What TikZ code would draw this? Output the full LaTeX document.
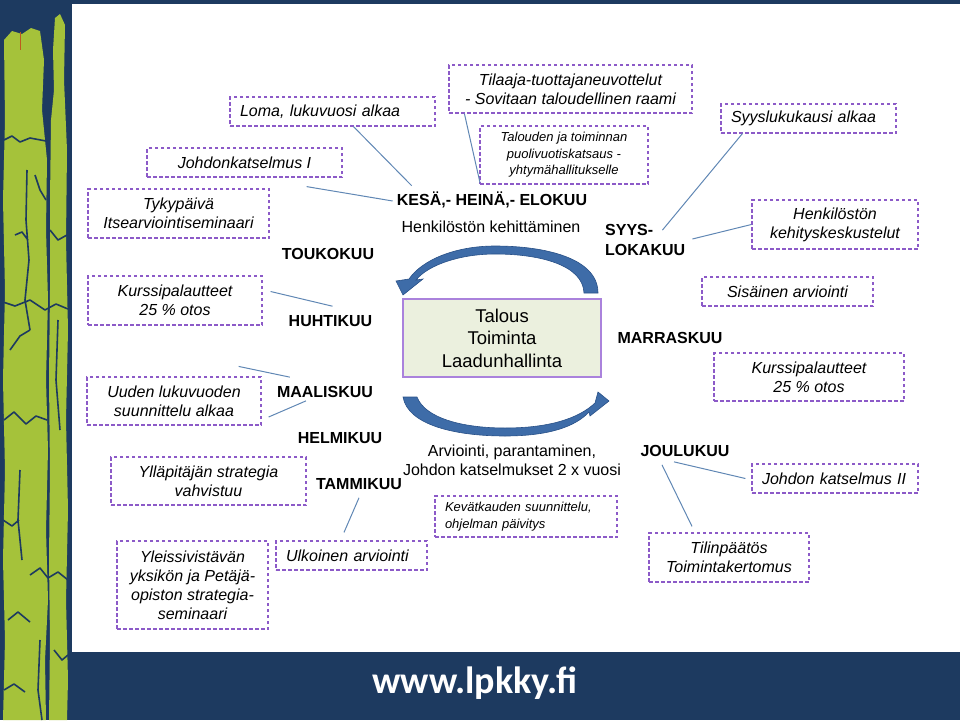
\documentclass[tikz,border=0pt]{standalone}
\usepackage{fontspec}
\setmainfont{Liberation Sans}
\newfontfamily\footfont{Carlito}
\usepackage{xcolor}
\definecolor{slidenavy}{RGB}{29,58,96}
\definecolor{leafgreen}{RGB}{165,194,58}
\definecolor{notepurple}{RGB}{140,90,200}
\definecolor{connblue}{RGB}{96,135,180}
\definecolor{mainfill}{RGB}{235,240,222}
\definecolor{mainedge}{RGB}{170,130,220}
\definecolor{arrowblue}{RGB}{62,108,168}
\definecolor{arrowedge}{RGB}{40,80,135}
\definecolor{tickorange}{RGB}{190,90,30}

\begin{document}
\begin{tikzpicture}[x=1pt,y=-1pt,
    note/.style={draw=notepurple,line width=1.2pt,dash pattern=on 3.5pt off 2.5pt,
      font=\fontsize{16}{19}\selectfont\itshape,align=center,inner sep=0pt},
    lnote/.style={note,align=left,inner xsep=10pt},
    smalltext/.style={font=\fontsize{13}{16.5}\selectfont\itshape},
    month/.style={font=\fontsize{16}{20}\selectfont\bfseries,inner sep=0pt},
    bodytext/.style={font=\fontsize{16}{19}\selectfont,align=center,inner sep=0pt},
    conn/.style={draw=connblue,line width=1pt},
    cycarrow/.style={fill=arrowblue,draw=arrowedge,line width=0.6pt}]
    \useasboundingbox (0,0) rectangle (960,720);

    \fill[slidenavy] (0,0) rectangle (72,720);
    \fill[slidenavy] (72,0) rectangle (960,4);
    \fill[slidenavy] (72,652) rectangle (960,720);
    \fill[leafgreen] (4,40) -- (12,31) -- (22,34) -- (31,28) -- (40,31) -- (44,60) -- (42,110)
      -- (47,160) -- (46,230) -- (48,300) -- (46,380) -- (48,450) -- (46,530) -- (48,600)
      -- (45,660) -- (46,720) -- (3,720) -- (5,640) -- (3,560) -- (5,470) -- (3,380)
      -- (5,290) -- (3,200) -- (5,120) -- cycle;
    \fill[leafgreen] (55,18) -- (60,14) -- (65,25) -- (64,80) -- (67,150) -- (66,240) -- (68,330)
      -- (66,420) -- (68,510) -- (66,600) -- (68,680) -- (67,720) -- (49,720) -- (50,640)
      -- (49,560) -- (50,470) -- (49,380) -- (50,290) -- (50,200) -- (51,120) -- (54,90)
      -- (53,50) -- cycle;
    \draw[slidenavy,line width=1.6pt,line join=round] (4,140) -- (12,136) -- (20,142) -- (30,138) -- (46,141)
      (35,175) -- (40,190) -- (46,200) (27,170) -- (26,220) -- (29,260) -- (25,300) -- (30,330)
      (15,235) -- (22,232) -- (28,240) (50,230) -- (58,240) -- (67,235)
      (3,302) -- (15,306) -- (30,300) -- (45,310) -- (56,304) -- (68,309)
      (10,350) -- (20,336) -- (30,330) (58,320) -- (56,380) -- (60,430)
      (4,420) -- (14,412) -- (26,424) -- (36,416) -- (47,420)
      (20,470) -- (18,520) -- (22,560) (3,520) -- (12,526) -- (19,520)
      (30,575) -- (40,568) -- (48,578) -- (58,572) -- (68,580)
      (8,620) -- (18,612) -- (30,622) (40,640) -- (38,690) -- (42,720)
      (54,650) -- (62,660) -- (68,655) (4,690) -- (14,684) -- (25,692);
    \draw[tickorange,line width=1pt] (20,32) -- (20,50);

    \node[lnote,text width=185pt,minimum height=29pt] (loma) at (332.5,111.5) {Loma, lukuvuosi alkaa};
    \node[note,minimum width=195pt,minimum height=29pt] (johdon1) at (244.5,162.5) {Johdonkatselmus I};
    \node[note,minimum width=181pt,minimum height=49pt] (tyky) at (178.5,213.5) {Tykypäivä\\Itsearviointiseminaari};
    \node[note,minimum width=243pt,minimum height=48pt] (tilaaja) at (570.5,89) {Tilaaja-tuottajaneuvottelut\\- Sovitaan taloudellinen raami};
    \node[note,smalltext,minimum width=168pt,minimum height=58pt] (talous) at (564,155) {Talouden ja toiminnan\\puolivuotiskatsaus -\\yhtymähallitukselle};
    \node[lnote,text width=155pt,minimum height=29pt] (syysl) at (808.5,118.5) {Syyslukukausi alkaa};
    \node[note,minimum width=166pt,minimum height=49pt] (kehitys) at (835,224.5) {Henkilöstön\\kehityskeskustelut};
    \node[note,minimum width=174pt,minimum height=49pt] (kurssi1) at (175,300.5) {Kurssipalautteet\\25 \% otos};
    \node[note,minimum width=174pt,minimum height=48pt] (uusi) at (174,401) {Uuden lukuvuoden\\suunnittelu alkaa};
    \node[note,minimum width=195pt,minimum height=48pt] (strategia) at (208.5,481) {Ylläpitäjän strategia\\vahvistuu};
    \node[note,minimum width=151pt,minimum height=88pt] (seminaari) at (192.5,585) {Yleissivistävän\\yksikön ja Petäjä-\\opiston strategia-\\seminaari};
    \node[lnote,text width=131pt,minimum height=29pt] (ulkoinen) at (351.5,555.5) {Ulkoinen arviointi};
    \node[note,minimum width=171pt,minimum height=29pt] (sisainen) at (787.5,291.5) {Sisäinen arviointi};
    \node[note,minimum width=190pt,minimum height=48pt] (kurssi2) at (809,377) {Kurssipalautteet\\25 \% otos};
    \node[lnote,smalltext,text width=162pt,minimum height=41pt] (kevat) at (526,516.5) {Kevätkauden suunnittelu,\\ohjelman päivitys};
    \node[lnote,text width=146pt,minimum height=29pt] (johdon2) at (835,478.5) {Johdon katselmus II};
    \node[note,minimum width=160pt,minimum height=49pt] (tilin) at (729,557.5) {Tilinpäätös\\Toimintakertomus};

    \node[draw=mainedge,fill=mainfill,line width=1.2pt,minimum width=198pt,minimum height=78pt,
      align=center,font=\fontsize{18.5}{22.5}\selectfont] (keskus) at (502,338) {Talous\\Toiminta\\Laadunhallinta};

    \node[month] (touko) at (328,254) {TOUKOKUU};
    \node[month] (kesa) at (492,200) {KESÄ,- HEINÄ,- ELOKUU};
    \node[bodytext] (henk) at (491,227) {Henkilöstön kehittäminen};
    \node[month,align=left,anchor=west] (syys) at (605,240) {SYYS-\\LOKAKUU};
    \node[month] (huhti) at (330.5,321) {HUHTIKUU};
    \node[month] (maalis) at (325,392) {MAALISKUU};
    \node[month] (helmi) at (340,438) {HELMIKUU};
    \node[month] (tammi) at (359,484) {TAMMIKUU};
    \node[month] (marras) at (670,338) {MARRASKUU};
    \node[month] (joulu) at (685,451) {JOULUKUU};
    \node[bodytext] (arvio) at (512,460) {Arviointi, parantaminen,\\Johdon katselmukset 2 x vuosi};
    \node[text=white,font=\footfont\bfseries\fontsize{38}{40}\selectfont] (www) at (475,683) {www.lpkky.fi};

    \draw[conn] ([shift={(21,0)}]loma.south) -- ([shift={(15,-6)}]kesa.north west);
    \draw[conn] ([shift={(-36,9)}]johdon1.south east) -- ([shift={(-4,1)}]kesa.west);
    \draw[conn] ([shift={(16,0)}]tilaaja.south west) -- ([shift={(-12,-9)}]kesa.north);
    \draw[conn] ([shift={(22,0)}]syysl.south west) -- ([shift={(-23,6)}]syys.north east);
    \draw[conn] (kehitys.west) -- ([shift={(7,-1)}]syys.east);
    \draw[conn] ([shift={(8,-9)}]kurssi1.east) -- ([shift={(44,-9)}]huhti.north west);
    \draw[conn] ([shift={(-23,-10)}]uusi.north east) -- ([shift={(13,-9)}]maalis.north west);
    \draw[conn] ([shift={(7,16)}]uusi.east) -- ([shift={(-19,3)}]maalis.south);
    \draw[conn] ([shift={(0,8)}]tammi.south) -- ([shift={(-7.5,-8)}]ulkoinen.north);
    \draw[conn] ([shift={(-11,5)}]joulu.south) -- ([shift={(-6,0)}]johdon2.west);
    \draw[conn] ([shift={(-23,8)}]joulu.south) -- ([shift={(-37,-6)}]tilin.north);

    \filldraw[cycarrow] (598,293) .. controls (598,258) and (545,246) .. (495,246)
      .. controls (455,246) and (422,260) .. (409,279) -- (396,281) -- (403,295) -- (423,279)
      -- (416,280) .. controls (428,265) and (460,254) .. (495,254)
      .. controls (540,254) and (583,265) .. (584,293) -- cycle;
    \filldraw[cycarrow] (403,397) .. controls (408,425) and (455,436) .. (505,436)
      .. controls (548,436) and (575,427) .. (589,412) -- (590,416) -- (609,401) -- (598,392)
      -- (595,403) .. controls (578,419) and (548,428) .. (505,428)
      .. controls (462,428) and (425,418) .. (417,397) -- cycle;
\end{tikzpicture}
\end{document}
